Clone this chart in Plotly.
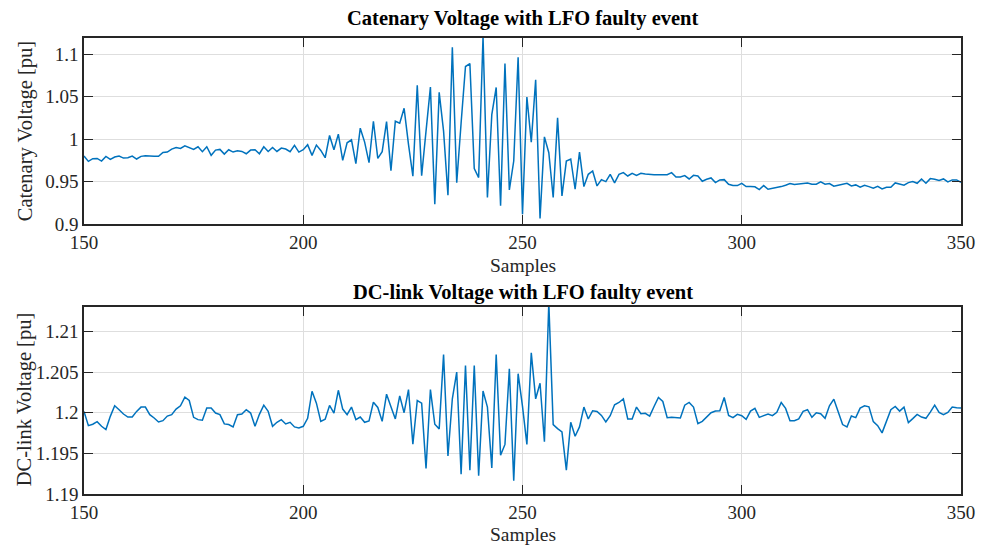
import plotly.graph_objects as go

samples = list(range(150, 351))

catenary_v = [
    0.9801, 0.9738, 0.977, 0.9773, 0.9742, 0.9797, 0.9762, 0.9789, 0.9801, 0.9777,
    0.9781, 0.9801, 0.9766, 0.9797, 0.9805, 0.9797, 0.9797, 0.9797,
    0.9844, 0.9848, 0.9883, 0.9902, 0.9891, 0.9922, 0.9902, 0.9879, 0.991, 0.9852,
    0.991, 0.9809, 0.9871, 0.9879, 0.9824, 0.9875, 0.9848, 0.9863, 0.9855, 0.9828,
    0.9871, 0.9875, 0.9828, 0.991, 0.9855, 0.9902, 0.9855, 0.9895, 0.9883, 0.9852,
    0.9926, 0.9848, 0.9875, 0.9934, 0.9809, 0.993, 0.9867, 0.9781, 1.0043, 0.9875,
    1.0059, 0.975, 0.9957, 0.9992, 0.9711, 1.0129, 0.9965, 0.9723, 1.0211, 0.9773,
    0.9852, 1.0207, 0.9629, 1.0211, 1.0188, 1.0363, 0.9938, 0.9563, 1.0633, 0.957,
    1.0094, 1.0613, 0.9234, 1.0551, 1.0094, 0.934, 1.1082, 0.9488,
    1.019, 1.0855, 1.089, 0.9652, 0.9547, 1.1207, 0.9313, 1.0289, 1.0609, 0.9215,
    1.089, 0.9402, 0.9742, 1.0965, 0.9117, 1.0496, 0.9965, 1.0699, 0.9066, 1.0027,
    0.984, 0.9313, 1.025, 0.9332, 0.9742, 0.9766, 0.941, 0.9848, 0.9441, 0.9586,
    0.9625, 0.9449, 0.9523, 0.95, 0.9586, 0.9484, 0.9586,
    0.9605, 0.9566, 0.9598, 0.9574, 0.9598, 0.959,
    0.9582, 0.9582, 0.9582, 0.9582, 0.9582,
    0.9605, 0.9555, 0.9555, 0.957, 0.9531, 0.9574, 0.9566,
    0.9504, 0.9527, 0.9543, 0.9488, 0.952, 0.9523, 0.9469, 0.9453, 0.9453, 0.948,
    0.9441, 0.9441, 0.9438, 0.9406, 0.9453, 0.941, 0.9418, 0.9426, 0.9441, 0.9457,
    0.9477, 0.9465, 0.9469, 0.9477, 0.9484, 0.9469, 0.9469, 0.9496, 0.9469, 0.9477,
    0.9445, 0.9457, 0.9465, 0.948, 0.9449, 0.9461, 0.9434, 0.9457, 0.9441, 0.9422,
    0.9445, 0.9414, 0.9434, 0.9434, 0.9484, 0.9469, 0.9457, 0.9488, 0.95, 0.948,
    0.9531, 0.948, 0.9535, 0.9527, 0.9512, 0.9531, 0.9496, 0.952, 0.952, 0.9492,
]

dclink_v = [
    1.20016, 1.19841, 1.19858, 1.1989, 1.19833, 1.19793, 1.19955, 1.20085, 1.20037, 1.19984,
    1.19947, 1.19947, 1.20016, 1.20069, 1.20069, 1.19976, 1.19935, 1.19886, 1.19902, 1.19959,
    1.19976, 1.20045, 1.20085, 1.20191, 1.2015, 1.19943, 1.19915, 1.19907, 1.20057, 1.20057,
    1.19996, 1.19976, 1.19862, 1.19854, 1.19825, 1.19976, 1.19984, 1.20037, 1.19996, 1.19833,
    1.1998, 1.20093, 1.20016, 1.19833, 1.19882, 1.19915, 1.19862, 1.19882, 1.19825, 1.19813, 1.19833,
    1.19931, 1.20264, 1.20118, 1.19894, 1.19919, 1.20089, 1.19996, 1.20276, 1.20045, 1.19976,
    1.20069, 1.19915, 1.19947, 1.19882, 1.19898, 1.2013, 1.20065, 1.19894, 1.20228, 1.20073,
    1.19923, 1.20207, 1.2, 1.20285, 1.19614, 1.2015, 1.20118, 1.19313, 1.20285, 1.19858,
    1.19801, 1.20715, 1.19467, 1.20171, 1.205,
    1.19244, 1.20581, 1.19293, 1.20581, 1.19224, 1.20268, 1.20069, 1.19321, 1.20715, 1.19476,
    1.1961, 1.20541, 1.19163, 1.2048, 1.20077, 1.1961, 1.20736, 1.20171, 1.20362, 1.19642,
    1.2135, 1.19854, 1.19805, 1.19764, 1.19293, 1.19882, 1.19711, 1.19825, 1.20069, 1.19923,
    1.20024, 1.20016, 1.19967, 1.19886, 1.19963, 1.20098, 1.20126,
    1.20171, 1.19923, 1.19923, 1.20069, 1.19988, 1.19992, 1.19959, 1.20077,
    1.20187, 1.20138, 1.19939, 1.19943, 1.19939, 1.19935, 1.20093, 1.20126, 1.20069, 1.19866,
    1.19894, 1.19947, 1.2, 1.2002, 1.20024, 1.20187, 1.19967, 1.19939, 1.1998, 1.19963,
    1.19919, 1.2002, 1.20053, 1.19943, 1.19959, 1.19984, 1.19963, 1.20004, 1.20126, 1.20053,
    1.19902, 1.19902, 1.19923, 1.20016, 1.20037, 1.19943, 1.2, 1.19988, 1.19931, 1.20085,
    1.20167, 1.19996, 1.19854, 1.19825, 1.19959, 1.19939, 1.20057, 1.20085, 1.20073, 1.1989,
    1.19841, 1.19752, 1.19894, 1.20037, 1.20077, 1.2002, 1.20069, 1.19878, 1.19927, 1.1998,
    1.19947, 1.19931, 1.20008, 1.20093, 1.20004, 1.19976, 1.20004, 1.20069, 1.20061, 1.20057,
]

x_ticks = [150, 200, 250, 300, 350]
cat_ticks = [0.9, 0.95, 1.0, 1.05, 1.1]
cat_tick_text = ["0.9", "0.95", "1", "1.05", "1.1"]
dc_ticks = [1.19, 1.195, 1.2, 1.205, 1.21]
dc_tick_text = ["1.19", "1.195", "1.2", "1.205", "1.21"]

title_top = "Catenary Voltage with LFO faulty event"
title_bottom = "DC-link Voltage with LFO faulty event"
ylabel_top = "Catenary Voltage [pu]"
ylabel_bottom = "DC-link Voltage [pu]"
xlabel = "Samples"

FONT = "Liberation Serif, Times New Roman, serif"
AX = "#262626"
LINE = "#0072BD"

fig = go.Figure()
fig.add_trace(go.Scatter(x=samples, y=catenary_v, mode="lines",
                         line=dict(color=LINE, width=1.5), xaxis="x", yaxis="y",
                         showlegend=False))
fig.add_trace(go.Scatter(x=samples, y=dclink_v, mode="lines",
                         line=dict(color=LINE, width=1.5), xaxis="x2", yaxis="y2",
                         showlegend=False))

common = dict(showline=True, linecolor=AX, linewidth=1.5, mirror="allticks",
              ticks="inside", ticklen=9, tickwidth=1.3, tickcolor=AX,
              showgrid=True, gridcolor="#dedede", gridwidth=1, zeroline=False,
              tickfont=dict(family=FONT, size=19, color=AX))

fig.update_layout(
    width=987, height=545,
    margin=dict(l=84, r=23, t=38, b=51),
    paper_bgcolor="white", plot_bgcolor="white",
    xaxis=dict(domain=[0, 1], range=[150, 350], tickvals=x_ticks, anchor="y", **common),
    yaxis=dict(domain=[0.592, 1], range=[0.9, 1.1191], tickvals=cat_ticks,
               ticktext=cat_tick_text, anchor="x", **common),
    xaxis2=dict(domain=[0, 1], range=[150, 350], tickvals=x_ticks, anchor="y2", **common),
    yaxis2=dict(domain=[0, 0.41], range=[1.19, 1.2130], tickvals=dc_ticks,
                ticktext=dc_tick_text, anchor="x2", **common),
)

ann = []
def add(text, x, y, size, bold=False, angle=0):
    ann.append(dict(text=f"<b>{text}</b>" if bold else text, x=x, y=y,
                    xref="paper", yref="paper", showarrow=False,
                    xanchor="center", yanchor="middle", textangle=angle,
                    font=dict(family=FONT, size=size, color="black" if bold else AX)))

add(title_top, 0.5, (494 - 18) / 456, 20.5, bold=True)
add(title_bottom, 0.5, (494 - 292) / 456, 20.5, bold=True)
add(xlabel, 0.5, (494 - 265) / 456, 19.5)
add(xlabel, 0.5, (494 - 534) / 456, 19.5)
add(ylabel_top, (25 - 84) / 880, (494 - 131) / 456, 20.5, angle=-90)
add(ylabel_bottom, (24 - 84) / 880, (494 - 400) / 456, 20.5, angle=-90)
fig.update_layout(annotations=ann)

fig.write_html("out.html")
